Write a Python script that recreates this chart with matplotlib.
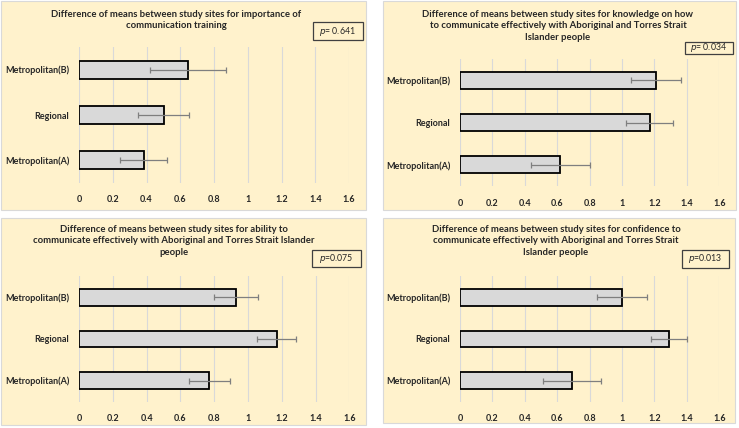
import matplotlib
matplotlib.use("Agg")
import matplotlib.pyplot as plt
from matplotlib.patches import Rectangle

plt.rcParams['font.family'] = ['Lato', 'DejaVu Sans']

W, H = 739, 428

sites = ['Metropolitan(A)', 'Regional', 'Metropolitan(B)']

titles = [
    'Difference of means between study sites for importance of\ncommunication training',
    'Difference of means between study sites for knowledge on how\nto communicate effectively with Aboriginal and Torres Strait\nIslander people',
    'Difference of means between study sites for ability to\ncommunicate effectively with Aboriginal and Torres Strait Islander\npeople',
    'Difference of means between study sites for confidence to\ncommunicate effectively with Aboriginal and Torres Strait\nIslander people',
]
p_labels = ['0.641', '0.034', '0.075', '0.013']
p_sep = ['= ', '= ', '=', '=']

# means (A, Regional, B) and error half-widths
means_importance = [0.383, 0.502, 0.644]
err_importance = [0.141, 0.150, 0.225]
means_knowledge = [0.620, 1.170, 1.210]
err_knowledge = [0.180, 0.144, 0.156]
means_ability = [0.770, 1.170, 0.930]
err_ability = [0.121, 0.114, 0.128]
means_confidence = [0.690, 1.290, 1.000]
err_confidence = [0.178, 0.112, 0.152]

all_means = [means_importance, means_knowledge, means_ability, means_confidence]
all_errs = [err_importance, err_knowledge, err_ability, err_confidence]

xticks = [0, 0.2, 0.4, 0.6, 0.8, 1, 1.2, 1.4, 1.6]
xticklabels = ['0', '0.2', '0.4', '0.6', '0.8', '1', '1.2', '1.4', '1.6']

# layout in pixels
panels = [(1, 1, 366, 210), (383, 1, 736, 210), (1, 218, 366, 425), (383, 218, 735, 423)]
axes_px = [(79, 47, 349, 183), (460, 59.4, 719.3, 186), (79, 276.3, 349.3, 401.6), (460, 276.3, 719.3, 401.6)]
title_pos = [(176, 10), (558, 10), (174, 225), (556, 225)]
pbox_px = [(313, 22.5, 362.5, 39.5), (685, 42, 732.5, 54), (311.5, 250, 361, 266.5), (681.5, 250, 729, 267.5)]

fig = plt.figure(figsize=(W / 100, H / 100), dpi=100)
fig.patch.set_facecolor('white')

def fx(x):
    return x / W

def fy(y):
    return 1 - y / H

for i in range(4):
    x0, y0, x1, y1 = panels[i]
    fig.patches.append(Rectangle((fx(x0), fy(y1)), fx(x1 - x0), (y1 - y0) / H,
                                 transform=fig.transFigure, facecolor='#FFF2CC',
                                 edgecolor='#D9D9D9', linewidth=0.8, zorder=-5))

    ax0, ay0, ax1, ay1 = axes_px[i]
    ax = fig.add_axes([fx(ax0), fy(ay1), fx(ax1 - ax0), (ay1 - ay0) / H])
    ax.set_zorder(2)
    ax.set_facecolor('none')
    ax.barh(range(3), all_means[i], height=0.4, color='#D9D9D9', edgecolor='black',
            linewidth=1.3, zorder=3)
    ax.errorbar(all_means[i], range(3), xerr=all_errs[i], fmt='none', ecolor='#7F7F7F',
                elinewidth=0.9, capsize=2, capthick=0.9, zorder=4)
    ax.set_xlim(0, 1.6)
    ax.set_ylim(-0.5, 2.5)
    ax.set_xticks(xticks)
    ax.set_xticklabels(xticklabels, fontsize=6.5, fontweight='bold', color='#262626')
    ax.set_yticks(range(3))
    ax.set_yticklabels(sites, fontsize=6.5, fontweight='bold', color='#262626')
    ax.tick_params(axis='both', length=0)
    ax.tick_params(axis='x', pad=9)
    ax.tick_params(axis='y', pad=7)
    ax.set_axisbelow(True)
    ax.grid(axis='x', color='#D9D9D9', linewidth=0.8)
    for s in ax.spines.values():
        s.set_visible(False)

    tx, ty = title_pos[i]
    fig.text(fx(tx), fy(ty), titles[i], ha='center', va='top', fontsize=6.8,
             fontweight='bold', color='#262626', linespacing=1.35)

    bx0, by0, bx1, by1 = pbox_px[i]
    fig.patches.append(Rectangle((fx(bx0), fy(by1)), fx(bx1 - bx0), (by1 - by0) / H,
                                 transform=fig.transFigure, facecolor='none',
                                 edgecolor='#404040', linewidth=0.9, zorder=5))
    fig.text(fx((bx0 + bx1) / 2), fy((by0 + by1) / 2),
             r'$\it{p}$' + p_sep[i] + p_labels[i], ha='center', va='center',
             fontsize=6.3, color='#262626')

fig.savefig('out.png', dpi=100)
